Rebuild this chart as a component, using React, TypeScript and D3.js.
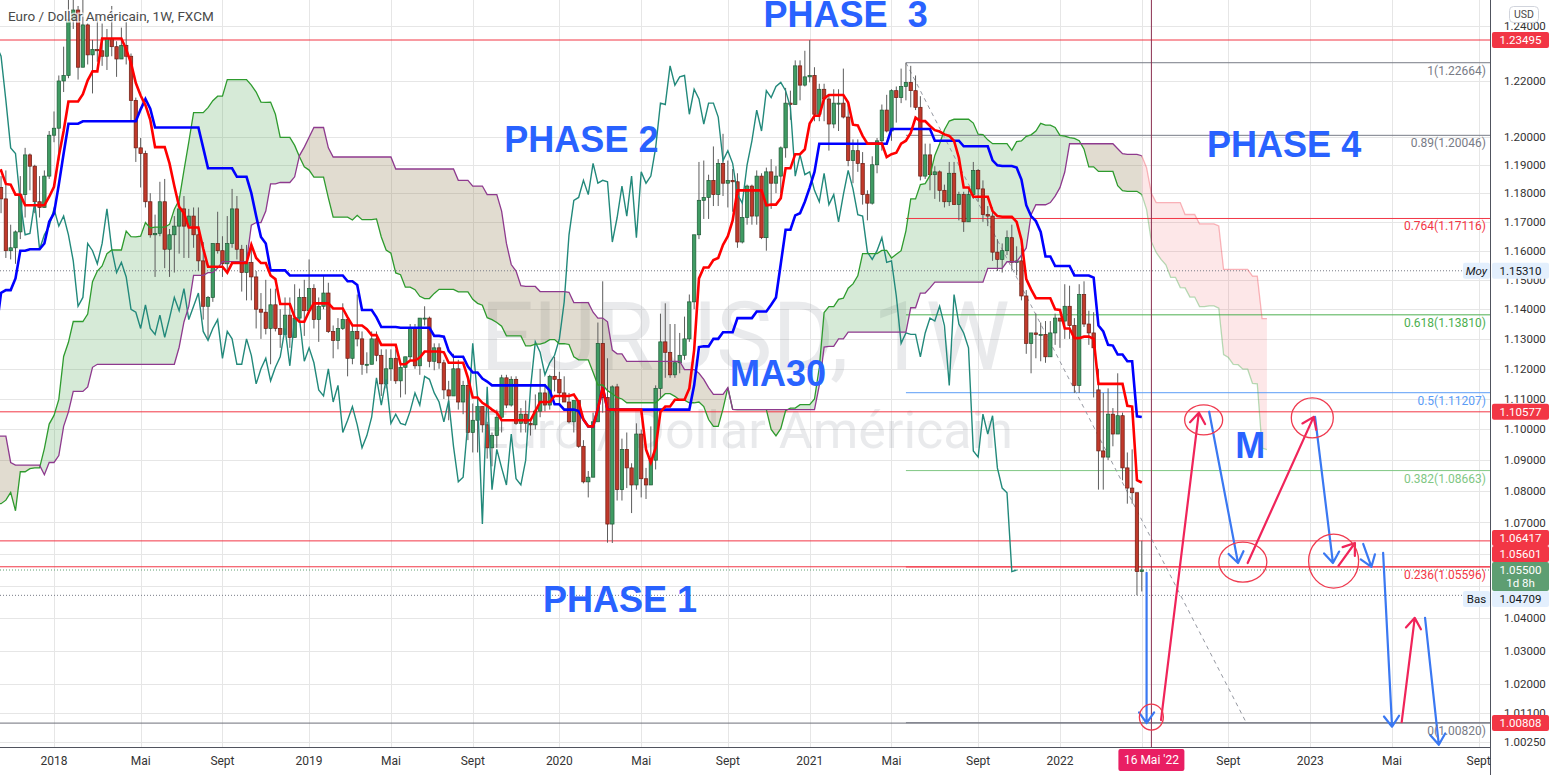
import * as d3 from 'd3'

const PLOT_R = 1490
const PLOT_B = 747

// weekly bars, EUR/USD, each week starts on a Monday
const FIRST_WEEK = '2016-04-04'
const FIRST_OPEN = 1.139

const highs = [
  // 2016
  1.1438,1.1465,1.1400,1.1462,1.1616,1.1445,1.1350,1.1240,1.1372,1.1416,1.1300,1.1428,1.1187,
  1.1186,1.1164,1.1070,1.1198,1.1234,1.1187,1.1366,1.1343,1.1239,1.1327,1.1284,1.1258,1.1261,
  1.1260,1.1200,1.1040,1.0985,1.1145,1.1300,1.0870,1.0688,1.0710,1.0875,1.0680,1.0485,1.0530,
  // 2017
  1.0630,1.0685,1.0775,1.0775,1.0830,1.0790,1.0680,1.0630,1.0630,1.0715,1.0780,1.0830,1.0906,
  1.0720,1.0680,1.0780,1.0950,1.1020,1.0990,1.1270,1.1270,1.1290,1.1295,1.1295,1.1215,1.1445,
  1.1445,1.1490,1.1680,1.1775,1.1910,1.1845,1.1800,1.1940,1.2070,1.2090,1.2000,1.2035,1.1950,
  1.1790,1.1880,1.1860,1.1880,1.1690,1.1670,1.1860,1.1960,1.1940,1.1900,1.1860,1.1880,1.2020,
  // 2018
  1.2090,1.2220,1.2325,1.2537,1.2520,1.2475,1.2555,1.2410,1.2350,1.2445,1.2410,1.2390,1.2475,
  1.2345,1.2395,1.2415,1.2300,1.2140,1.1995,1.1950,1.1800,1.1725,1.1840,1.1850,1.1675,1.1720,
  1.1790,1.1790,1.1745,1.1750,1.1750,1.1630,1.1445,1.1625,1.1735,1.1650,1.1720,1.1815,1.1790,
  1.1620,1.1620,1.1620,1.1530,1.1455,1.1500,1.1470,1.1470,1.1400,1.1440,1.1440,1.1485,1.1470,
  // 2019
  1.1500,1.1570,1.1485,1.1440,1.1515,1.1490,1.1345,1.1370,1.1420,1.1375,1.1345,1.1450,1.1325,
  1.1255,1.1325,1.1325,1.1265,1.1265,1.1265,1.1265,1.1215,1.1215,1.1350,1.1350,1.1370,1.1410,
  1.1375,1.1285,1.1285,1.1230,1.1160,1.1250,1.1230,1.1160,1.1165,1.1085,1.1110,1.1075,1.1025,
  1.0990,1.1065,1.1180,1.1180,1.1175,1.1175,1.1070,1.1095,1.1030,1.1115,1.1200,1.1150,1.1180,1.1240,
  // 2020
  1.1190,1.1175,1.1120,1.1095,1.1095,1.0965,1.0865,1.1055,1.1355,1.1495,1.1235,1.1145,1.1150,
  1.0970,1.0990,1.0890,1.1020,1.1000,1.0875,1.1010,1.1145,1.1385,1.1420,1.1350,1.1350,1.1320,
  1.1375,1.1450,1.1655,1.1910,1.1915,1.1865,1.1965,1.1920,1.2010,1.1915,1.1885,1.1870,1.1770,
  1.1830,1.1830,1.1880,1.1870,1.1890,1.1920,1.1895,1.1965,1.2175,1.2165,1.2275,1.2275,1.2310,
  // 2021
  1.2349,1.2250,1.2190,1.2190,1.2150,1.2170,1.2170,1.2245,1.2115,1.1990,1.1990,1.1945,1.1810,
  1.1930,1.1995,1.2115,1.2150,1.2170,1.2180,1.2245,1.2266,1.2255,1.2220,1.2145,1.1975,1.1975,
  1.1895,1.1880,1.1830,1.1910,1.1910,1.1805,1.1805,1.1810,1.1910,1.1885,1.1845,1.1755,1.1750,
  1.1640,1.1625,1.1670,1.1690,1.1615,1.1610,1.1465,1.1320,1.1385,1.1355,1.1360,1.1360,1.1385,
  // 2022
  1.1370,1.1485,1.1480,1.1370,1.1485,1.1495,1.1395,1.1390,1.1200,1.1120,1.1135,1.1070,1.1185,
  1.1055,1.0925,1.0935,1.0795,1.0642,
]

const lows = [
  // 2016
  1.1328,1.1234,1.1217,1.1215,1.1385,1.1305,1.1183,1.1100,1.1098,1.1240,1.1131,1.0912,1.0958,
  1.0952,1.1000,1.0952,1.0955,1.1045,1.1046,1.1120,1.1157,1.1123,1.1150,1.1150,1.1123,1.1122,
  1.1050,1.0969,1.0858,1.0862,1.0950,1.0800,1.0569,1.0518,1.0530,1.0505,1.0366,1.0352,1.0390,
  // 2017
  1.0340,1.0454,1.0580,1.0620,1.0620,1.0590,1.0521,1.0494,1.0495,1.0525,1.0600,1.0710,1.0650,
  1.0570,1.0570,1.0570,1.0821,1.0860,1.0840,1.0920,1.1110,1.1110,1.1170,1.1130,1.1120,1.1160,
  1.1310,1.1370,1.1440,1.1610,1.1730,1.1690,1.1660,1.1730,1.1820,1.1880,1.1840,1.1860,1.1720,
  1.1670,1.1730,1.1730,1.1575,1.1570,1.1555,1.1640,1.1715,1.1810,1.1730,1.1715,1.1750,1.1850,
  // 2018
  1.1980,1.1915,1.2160,1.2210,1.2390,1.2205,1.2250,1.2260,1.2155,1.2270,1.2255,1.2240,1.2290,
  1.2215,1.2280,1.2260,1.2055,1.1910,1.1820,1.1750,1.1645,1.1510,1.1650,1.1540,1.1510,1.1525,
  1.1590,1.1575,1.1575,1.1610,1.1530,1.1365,1.1300,1.1425,1.1590,1.1510,1.1530,1.1610,1.1570,
  1.1460,1.1430,1.1430,1.1335,1.1300,1.1315,1.1215,1.1325,1.1270,1.1320,1.1270,1.1345,1.1360,
  // 2019
  1.1310,1.1390,1.1335,1.1290,1.1400,1.1320,1.1235,1.1265,1.1330,1.1175,1.1215,1.1275,1.1180,
  1.1185,1.1215,1.1225,1.1110,1.1135,1.1160,1.1150,1.1105,1.1115,1.1230,1.1200,1.1180,1.1345,
  1.1205,1.1195,1.1200,1.1100,1.1030,1.1110,1.1065,1.1050,1.0965,1.0925,1.0925,1.0990,1.0905,
  1.0880,1.0940,1.0990,1.1070,1.1075,1.1015,1.0990,1.0990,1.0980,1.1000,1.1040,1.1060,1.1065,1.1125,
  // 2020
  1.1085,1.1090,1.1020,1.0990,1.0940,1.0825,1.0780,1.0845,1.1025,1.1055,1.0636,1.0635,1.0770,
  1.0770,1.0810,1.0730,1.0805,1.0780,1.0775,1.0850,1.0870,1.1100,1.1170,1.1170,1.1170,1.1185,
  1.1230,1.1290,1.1400,1.1640,1.1710,1.1710,1.1755,1.1755,1.1790,1.1750,1.1735,1.1610,1.1625,
  1.1690,1.1690,1.1690,1.1640,1.1600,1.1745,1.1800,1.1800,1.1925,1.2060,1.2125,1.2130,1.2180,
  // 2021
  1.2195,1.2055,1.2055,1.2055,1.1950,1.2030,1.2020,1.2065,1.1895,1.1835,1.1875,1.1760,1.1705,
  1.1760,1.1870,1.1950,1.2015,1.1985,1.2050,1.2120,1.2130,1.2105,1.2095,1.1845,1.1850,1.1810,
  1.1780,1.1770,1.1750,1.1755,1.1760,1.1705,1.1665,1.1700,1.1780,1.1770,1.1700,1.1685,1.1565,
  1.1530,1.1525,1.1585,1.1535,1.1515,1.1430,1.1250,1.1185,1.1235,1.1225,1.1220,1.1265,1.1280,
  // 2022
  1.1270,1.1300,1.1300,1.1120,1.1120,1.1340,1.1280,1.1105,1.0805,1.0805,1.0900,1.0945,1.0985,
  1.0835,1.0760,1.0760,1.0471,1.0483,
]

const closes = [
  // 2016
  1.1397,1.1284,1.1224,1.1454,1.1402,1.1310,1.1224,1.1113,1.1367,1.1252,1.1277,1.1117,1.1135,
  1.1050,1.1040,1.0976,1.1174,1.1086,1.1162,1.1324,1.1198,1.1157,1.1233,1.1155,1.1226,1.1240,
  1.1200,1.0970,1.0886,1.0980,1.1140,1.0860,1.0590,1.0589,1.0665,1.0563,1.0450,1.0456,1.0520,
  // 2017
  1.0530,1.0640,1.0700,1.0700,1.0785,1.0615,1.0615,1.0560,1.0620,1.0700,1.0740,1.0800,1.0650,
  1.0590,1.0610,1.0730,1.0900,1.0990,1.0930,1.1200,1.1180,1.1280,1.1200,1.1200,1.1190,1.1425,
  1.1400,1.1470,1.1660,1.1750,1.1775,1.1820,1.1760,1.1925,1.1860,1.2030,1.1940,1.1950,1.1820,
  1.1730,1.1820,1.1780,1.1600,1.1610,1.1665,1.1795,1.1935,1.1895,1.1770,1.1750,1.1860,1.2005,
  // 2018
  1.2030,1.2200,1.2220,1.2425,1.2460,1.2250,1.2405,1.2295,1.2315,1.2310,1.2290,1.2355,1.2325,
  1.2280,1.2330,1.2290,1.2130,1.1960,1.1940,1.1770,1.1655,1.1660,1.1770,1.1605,1.1655,1.1685,
  1.1745,1.1685,1.1720,1.1655,1.1565,1.1410,1.1440,1.1625,1.1600,1.1555,1.1625,1.1745,1.1605,
  1.1525,1.1560,1.1510,1.1400,1.1390,1.1335,1.1415,1.1335,1.1315,1.1380,1.1305,1.1370,1.1440,
  // 2019
  1.1395,1.1470,1.1365,1.1410,1.1455,1.1325,1.1295,1.1335,1.1365,1.1235,1.1325,1.1300,1.1215,
  1.1215,1.1300,1.1245,1.1150,1.1200,1.1235,1.1160,1.1205,1.1240,1.1335,1.1210,1.1370,1.1370,
  1.1225,1.1270,1.1220,1.1130,1.1110,1.1200,1.1090,1.1145,1.0990,1.1030,1.1075,1.1015,1.0940,
  1.0980,1.1040,1.1170,1.1080,1.1165,1.1020,1.1050,1.1020,1.1015,1.1060,1.1120,1.1080,1.1175,1.1165,
  // 2020
  1.1120,1.1090,1.1025,1.1095,1.0945,1.0830,1.0845,1.1025,1.1285,1.1105,1.0695,1.1140,1.0805,
  1.0935,1.0875,1.0820,1.0985,1.0840,1.0820,1.0900,1.1135,1.1290,1.1255,1.1180,1.1220,1.1245,
  1.1300,1.1425,1.1655,1.1775,1.1785,1.1845,1.1795,1.1905,1.1835,1.1845,1.1840,1.1630,1.1715,
  1.1825,1.1720,1.1860,1.1645,1.1875,1.1835,1.1860,1.1960,1.2120,1.2115,1.2255,1.2185,1.2215,
  // 2021
  1.2220,1.2080,1.2170,1.2135,1.2045,1.2120,1.2120,1.2070,1.1915,1.1950,1.1905,1.1795,1.1765,
  1.1900,1.1985,1.2095,1.2020,1.2165,1.2140,1.2180,1.2195,1.2165,1.2105,1.1860,1.1935,1.1865,
  1.1875,1.1810,1.1770,1.1870,1.1760,1.1795,1.1700,1.1795,1.1880,1.1815,1.1725,1.1720,1.1595,
  1.1570,1.1600,1.1645,1.1560,1.1565,1.1445,1.1285,1.1320,1.1315,1.1315,1.1240,1.1320,1.1370,
  // 2022
  1.1360,1.1410,1.1345,1.1145,1.1450,1.1350,1.1320,1.1270,1.0930,1.0910,1.1050,1.0985,1.1045,
  1.0875,1.0810,1.0795,1.0545,1.0550,
]

// weeks that opened with a gap
const gapOpens: [string, number][] = [['2017-04-24', 1.0935], ['2022-02-28', 1.113]]

const priceTicks = [1.24, 1.22, 1.2, 1.19, 1.18, 1.17, 1.16, 1.15, 1.14, 1.13, 1.12, 1.11, 1.1,
  1.09, 1.08, 1.07, 1.06, 1.05, 1.04, 1.03, 1.02, 1.011, 1.0025]

const timeTicks: [string, string][] = [
  ['2018-01-01', '2018'], ['2018-05-07', 'Mai'], ['2018-09-03', 'Sept'],
  ['2019-01-07', '2019'], ['2019-05-06', 'Mai'], ['2019-09-02', 'Sept'],
  ['2020-01-06', '2020'], ['2020-05-04', 'Mai'], ['2020-09-07', 'Sept'],
  ['2021-01-04', '2021'], ['2021-05-03', 'Mai'], ['2021-09-06', 'Sept'],
  ['2022-01-03', '2022'], ['2022-05-02', 'Mai'], ['2022-09-05', 'Sept'],
  ['2023-01-02', '2023'], ['2023-05-01', 'Mai'], ['2023-09-04', 'Sept'],
]

const redLevels = [1.23495, 1.10577, 1.06417, 1.05601]
const baseLevel = 1.00808
const fibLevels = [1, 0.89, 0.764, 0.618, 0.5, 0.382, 0.236, 0]
const fibColors = ['#787b86', '#787b86', '#f23645', '#4caf50', '#5b9cf6', '#81c784', '#f23645', '#787b86']
const fibStart: [string, number] = ['2021-05-24', 1.22664]
const fibEnd: [string, number] = ['2022-10-01', 1.0082]
const AVG_PRICE = 1.1531
const LOW_PRICE = 1.04709
const CROSS_DATE = '2022-05-16'

const phaseLabels: [string, string, number][] = [
  ['PHASE  3', '2020-10-29', 1.2398],
  ['PHASE 2', '2019-10-18', 1.1945],
  ['PHASE 4', '2022-08-05', 1.1928],
  ['MA30', '2020-09-10', 1.1143],
  ['PHASE 1', '2019-12-13', 1.0419],
  ['M', '2022-09-15', 1.0907],
]

// hand-drawn scenario: [from date, from price, to date, to price]
const blueArrows: [string, number, string, number][] = [
  ['2022-05-09', 1.0541, '2022-05-09', 1.0081],
  ['2022-08-08', 1.1058, '2022-09-19', 1.0572],
  ['2023-01-09', 1.1041, '2023-02-04', 1.0572],
  ['2023-03-20', 1.0632, '2023-04-01', 1.056],
  ['2023-04-18', 1.0604, '2023-05-01', 1.007],
  ['2023-06-18', 1.0401, '2023-07-08', 1.0016],
]
const redArrows: [string, number, string, number][] = [
  ['2022-05-30', 1.009, '2022-07-24', 1.1055],
  ['2022-10-03', 1.0572, '2023-01-07', 1.1041],
  ['2023-02-12', 1.0563, '2023-03-08', 1.0635],
  ['2023-05-15', 1.0084, '2023-06-03', 1.0401],
]
// [center date, center price, rx, ry]
const circles: [string, number, number, number][] = [
  ['2022-05-16', 1.0099, 12, 13],
  ['2022-07-31', 1.1031, 19, 15],
  ['2022-09-26', 1.0575, 24, 20],
  ['2023-01-05', 1.1038, 21, 20],
  ['2023-02-05', 1.0578, 25, 27],
]

const parse = d3.utcParse('%Y-%m-%d')
const D = (s: string) => parse(s) as Date

type Bar = { date: Date; open: number; high: number; low: number; close: number }
type Lead = { date: Date; a: number | null; b: number | null }

function arrowPath(x1: number, y1: number, x2: number, y2: number) {
  const len = 13
  const ang = 0.62
  const a = Math.atan2(y2 - y1, x2 - x1)
  const h1x = x2 - len * Math.cos(a - ang)
  const h1y = y2 - len * Math.sin(a - ang)
  const h2x = x2 - len * Math.cos(a + ang)
  const h2y = y2 - len * Math.sin(a + ang)
  return `M${x1},${y1}L${x2},${y2}M${h1x},${h1y}L${x2},${y2}L${h2x},${h2y}`
}

export default function App() {
  const start = D(FIRST_WEEK)
  const n = Math.min(highs.length, lows.length, closes.length)
  const gapMap = new Map(gapOpens.map(([s, o]) => [D(s).getTime(), o]))

  const bars: Bar[] = []
  for (let i = 0; i < n; i++) {
    const date = d3.utcDay.offset(start, 7 * i)
    const open = gapMap.get(date.getTime()) ?? (i === 0 ? FIRST_OPEN : closes[i - 1])
    const c = closes[i]
    bars.push({ date, open, close: c, high: Math.max(highs[i], open, c), low: Math.min(lows[i], open, c) })
  }
  const last = bars[bars.length - 1]

  const x = d3.scaleUtc().domain([D('2018-01-01'), D('2022-05-16')]).range([54, 1151.4])
  const y = d3.scaleLog().domain([1.00808, 1.23495]).range([723.1, 40])

  // ichimoku 9 / 26 / 52, displaced 26
  const mid = (i: number, len: number) => {
    if (i < len - 1) return null
    const s = bars.slice(i - len + 1, i + 1)
    return ((d3.max(s, d => d.high) as number) + (d3.min(s, d => d.low) as number)) / 2
  }
  const tenkan = bars.map((b, i) => ({ date: b.date, v: mid(i, 9) }))
  const kijun = bars.map((b, i) => ({ date: b.date, v: mid(i, 26) }))
  const lead: Lead[] = bars.map((b, i) => {
    const t = tenkan[i].v
    const k = kijun[i].v
    return { date: d3.utcDay.offset(b.date, 7 * 26), a: t != null && k != null ? (t + k) / 2 : null, b: mid(i, 52) }
  })
  const lagging = bars.map(b => ({ date: d3.utcDay.offset(b.date, -7 * 26), v: b.close }))

  const vline = d3.line<{ date: Date; v: number | null }>()
    .defined(d => d.v != null)
    .x(d => x(d.date))
    .y(d => y(d.v as number))

  const cloud = lead.filter(d => d.a != null && d.b != null)
  const band = d3.area<Lead>().x(d => x(d.date)).y0(d => y(d.a as number)).y1(d => y(d.b as number))(cloud) || ''
  const aboveB = d3.area<Lead>().x(d => x(d.date)).y0(0).y1(d => y(d.b as number))(cloud) || ''
  const belowB = d3.area<Lead>().x(d => x(d.date)).y0(d => y(d.b as number)).y1(PLOT_B)(cloud) || ''
  const spanA = d3.line<Lead>().defined(d => d.a != null).x(d => x(d.date)).y(d => y(d.a as number))(lead) || ''
  const spanB = d3.line<Lead>().defined(d => d.b != null).x(d => x(d.date)).y(d => y(d.b as number))(lead) || ''
  const xLast = x(last.date)

  // fibonacci retracement, log scale
  const lnHi = Math.log(fibStart[1])
  const lnLo = Math.log(fibEnd[1])
  const fibs = fibLevels.map((lv, i) => ({ lv, price: Math.exp(lnLo + lv * (lnHi - lnLo)), color: fibColors[i] }))
  const fibX = x(D(fibStart[0]))

  // price tags on the right axis, stacked around the live price tag
  type Tag = { price: number; text: string; bg: string; fg: string; h: number; sub?: string; top?: number; note?: string }
  const live: Tag = { price: last.close, text: last.close.toFixed(5), sub: '1d 8h', bg: '#5e9e72', fg: '#ffffff', h: 29 }
  live.top = y(live.price) - 8
  const others: Tag[] = [
    ...[...redLevels, baseLevel].map(p => ({ price: p, text: p.toFixed(5), bg: '#f23645', fg: '#ffffff', h: 16 })),
    { price: AVG_PRICE, text: AVG_PRICE.toFixed(5), bg: '#e3effd', fg: '#131722', h: 16, note: 'Moy' },
    { price: LOW_PRICE, text: LOW_PRICE.toFixed(5), bg: '#e3effd', fg: '#131722', h: 16, note: 'Bas' },
  ]
  const above = others.filter(t => t.price >= live.price).sort((a, b) => a.price - b.price)
  let limit = live.top
  above.forEach(t => { t.top = Math.min(y(t.price) - 8, limit - t.h); limit = t.top })
  const below = others.filter(t => t.price < live.price).sort((a, b) => b.price - a.price)
  limit = live.top + live.h
  below.forEach(t => { t.top = Math.max(y(t.price) - 8, limit); limit = (t.top as number) + t.h })
  const tags = [...others, live]
  // tick labels whose centre falls behind a tag are hidden
  const freeTicks = priceTicks.filter(p => tags.every(t => y(p) < (t.top as number) - 1 || y(p) > (t.top as number) + t.h + 1))

  const crossX = x(D(CROSS_DATE))
  const font = "Roboto, 'Liberation Sans', Arial, sans-serif"
  const bold = "'Liberation Sans', Arial, sans-serif"

  const visibleBars = bars.filter(b => x(b.date) > -6 && x(b.date) < PLOT_R)

  return (
    <svg width={1554} height={775} style={{ position: 'absolute', left: 0, top: 0, display: 'block' }}
      fontFamily={font}>
      <defs>
        <clipPath id="plot"><rect x={0} y={0} width={PLOT_R} height={PLOT_B} /></clipPath>
        <clipPath id="past"><rect x={0} y={0} width={xLast} height={PLOT_B} /></clipPath>
        <clipPath id="future"><rect x={xLast} y={0} width={PLOT_R - xLast} height={PLOT_B} /></clipPath>
        <clipPath id="aboveB"><path d={aboveB} /></clipPath>
        <clipPath id="belowB"><path d={belowB} /></clipPath>
      </defs>
      <rect x={0} y={0} width={1554} height={775} fill="#ffffff" />

      {/* grid */}
      <g stroke="#e6e6e6" strokeWidth={1}>
        {priceTicks.map(p => <line key={p} x1={0} x2={PLOT_R} y1={Math.round(y(p)) + 0.5} y2={Math.round(y(p)) + 0.5} />)}
        {timeTicks.map(([d]) => <line key={d} x1={Math.round(x(D(d))) + 0.5} x2={Math.round(x(D(d))) + 0.5} y1={0} y2={PLOT_B} />)}
      </g>

      {/* watermark */}
      <g fill="#787b86" fillOpacity={0.16} textAnchor="middle" fontFamily={font}>
        <text x={745} y={369} fontSize={95}>EURUSD, 1W</text>
        <text x={746} y={448} fontSize={52}>Euro / Dollar Américain</text>
      </g>

      <g clipPath="url(#plot)">
        {/* cloud */}
        <g clipPath="url(#past)">
          <path d={band} fill="rgba(67,160,71,0.22)" clipPath="url(#aboveB)" />
          <path d={band} fill="rgba(130,110,60,0.24)" clipPath="url(#belowB)" />
        </g>
        <g clipPath="url(#future)">
          <path d={band} fill="rgba(242,54,69,0.12)" />
        </g>

        {/* dotted statistics lines */}
        <line x1={0} x2={1463} y1={y(AVG_PRICE)} y2={y(AVG_PRICE)} stroke="#787b86" strokeDasharray="1 2" />
        <line x1={0} x2={1463} y1={y(LOW_PRICE)} y2={y(LOW_PRICE)} stroke="#787b86" strokeDasharray="1 2" />
        <line x1={0} x2={PLOT_R} y1={y(last.close)} y2={y(last.close)} stroke="#5e9e72" strokeDasharray="1 2" />

        {/* horizontal levels */}
        {redLevels.map(p => <line key={p} x1={0} x2={PLOT_R} y1={y(p)} y2={y(p)} stroke="#f23645" strokeWidth={1} />)}
        <line x1={0} x2={PLOT_R} y1={y(baseLevel)} y2={y(baseLevel)} stroke="#6e707a" strokeWidth={1} />
        {fibs.map(f => <line key={f.lv} x1={fibX} x2={PLOT_R} y1={y(f.price)} y2={y(f.price)} stroke={f.color} strokeWidth={1} />)}
        <line x1={fibX} y1={y(fibStart[1])} x2={x(D(fibEnd[0]))} y2={y(fibEnd[1])} stroke="#9598a1" strokeDasharray="4 4" />

        {/* candles */}
        {visibleBars.map(b => {
          const cx = x(b.date)
          const up = b.close >= b.open
          const top = y(Math.max(b.open, b.close))
          const bot = y(Math.min(b.open, b.close))
          return (
            <g key={b.date.getTime()}>
              <line x1={cx} x2={cx} y1={y(b.high)} y2={y(b.low)} stroke="#5d5d5d" strokeWidth={1} />
              <rect x={cx - 1.7} y={top} width={3.4} height={Math.max(1, bot - top)}
                fill={up ? '#3f9b63' : '#c0392b'} stroke={up ? '#1d5a36' : '#6b1c12'} strokeWidth={0.7} />
            </g>
          )
        })}

        {/* ichimoku lines */}
        <path d={vline(lagging) || ''} fill="none" stroke="#22897b" strokeWidth={1.4} />
        <g clipPath="url(#past)">
          <path d={spanA} fill="none" stroke="#2e9b2e" strokeWidth={1.3} />
          <path d={spanB} fill="none" stroke="#8e3a8e" strokeWidth={1.3} />
        </g>
        <g clipPath="url(#future)">
          <path d={spanA} fill="none" stroke="rgba(76,175,80,0.4)" strokeWidth={1.3} />
          <path d={spanB} fill="none" stroke="rgba(242,54,69,0.35)" strokeWidth={1.3} />
        </g>
        <path d={vline(kijun) || ''} fill="none" stroke="#0000ff" strokeWidth={2.6} />
        <path d={vline(tenkan) || ''} fill="none" stroke="#ff0000" strokeWidth={2.6} />

        {/* crosshair */}
        <line x1={crossX} x2={crossX} y1={0} y2={PLOT_B} stroke="#8a3050" strokeWidth={1} />

        {/* phase notes */}
        <g fontFamily={bold} fontWeight={700} fontSize={36} fill="#2962ff" style={{ whiteSpace: 'pre' }}>
          {phaseLabels.map(([t, d, p]) => <text key={t} x={x(D(d))} y={y(p)} xmlSpace="preserve">{t}</text>)}
        </g>

        {/* drawn scenario */}
        <g fill="none" strokeWidth={2.2} strokeLinecap="round" strokeLinejoin="round">
          {blueArrows.map(([d1, p1, d2, p2], i) => (
            <path key={'b' + i} d={arrowPath(x(D(d1)), y(p1), x(D(d2)), y(p2))} stroke="#3a78f2" />
          ))}
          {redArrows.map(([d1, p1, d2, p2], i) => (
            <path key={'r' + i} d={arrowPath(x(D(d1)), y(p1), x(D(d2)), y(p2))} stroke="#f0245a" />
          ))}
          {circles.map(([d, p, rx, ry], i) => (
            <ellipse key={'c' + i} cx={x(D(d))} cy={y(p)} rx={rx} ry={ry} stroke="#ef3a4f" strokeWidth={1.3} />
          ))}
        </g>

        {/* fib labels */}
        <g fontSize={12} textAnchor="end">
          {fibs.map(f => (
            <text key={f.lv} x={1486} y={y(f.price) + 12} fill={f.color}>{`${f.lv}(${f.price.toFixed(5)})`}</text>
          ))}
        </g>
      </g>

      {/* title */}
      <text x={8} y={21} fontSize={13.5} fill="#4a4a4a" stroke="#ffffff" strokeWidth={3} strokeOpacity={0.7}
        style={{ paintOrder: 'stroke' }}>Euro / Dollar Américain, 1W, FXCM</text>

      {/* axes frame */}
      <rect x={PLOT_R} y={0} width={1554 - PLOT_R} height={775} fill="#ffffff" />
      <rect x={0} y={PLOT_B} width={PLOT_R} height={775 - PLOT_B} fill="#ffffff" />
      <line x1={PLOT_R + 0.5} x2={PLOT_R + 0.5} y1={0} y2={775} stroke="#50535e" />
      <line x1={0} x2={PLOT_R} y1={PLOT_B + 0.5} y2={PLOT_B + 0.5} stroke="#50535e" />

      {/* price axis */}
      <g fontSize={11.5} fill="#333333">
        {freeTicks.map(p => <text key={p} x={1504} y={y(p)} dy="0.35em">{p.toFixed(5)}</text>)}
      </g>
      {tags.map(t => (
        <g key={t.text + t.bg}>
          <rect x={1492} y={t.top} width={57} height={t.h} rx={2} fill={t.bg} />
          <text x={1520.5} y={(t.top as number) + 8} dy="0.35em" textAnchor="middle" fontSize={11.5} fill={t.fg}>{t.text}</text>
          {t.sub && <text x={1520.5} y={(t.top as number) + 21} dy="0.35em" textAnchor="middle" fontSize={11.5} fill={t.fg}>{t.sub}</text>}
          {t.note && (
            <g>
              <rect x={1463} y={t.top} width={27} height={t.h} rx={2} fill={t.bg} />
              <text x={1476.5} y={(t.top as number) + 8} dy="0.35em" textAnchor="middle" fontSize={11.5} fill={t.fg}
                fontStyle={t.note === 'Moy' ? 'italic' : 'normal'}>{t.note}</text>
            </g>
          )}
        </g>
      ))}
      <rect x={1509.5} y={6.5} width={29} height={16} rx={4} fill="#ffffff" stroke="#d1d4dc" />
      <text x={1524} y={14.5} dy="0.35em" textAnchor="middle" fontSize={10.5} fill="#4a4a4a">USD</text>

      {/* time axis */}
      <g fontSize={12} fill="#333333" textAnchor="middle">
        {timeTicks.filter(([d]) => Math.abs(x(D(d)) - crossX) > 40).map(([d, t]) => (
          <text key={d} x={x(D(d))} y={761} dy="0.35em">{t}</text>
        ))}
      </g>
      <rect x={crossX - 33} y={749} width={66} height={22} rx={2} fill="#e91e63" />
      <text x={crossX} y={760} dy="0.35em" textAnchor="middle" fontSize={12} fill="#ffffff">16 Mai '22</text>
    </svg>
  )
}
